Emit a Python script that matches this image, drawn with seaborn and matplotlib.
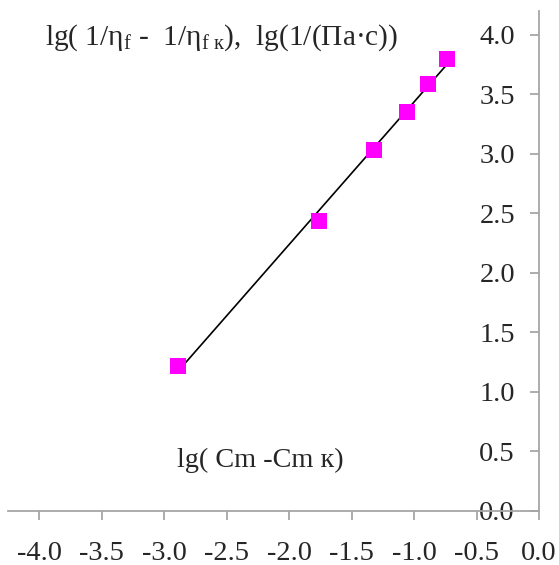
import numpy as np
import pandas as pd
import seaborn as sns
import matplotlib
matplotlib.use("Agg")
import matplotlib.pyplot as plt

# values
lg_cm = [-2.89, -1.76, -1.32, -1.06, -0.89, -0.74]
lg_eta = [1.22, 2.44, 3.03, 3.35, 3.59, 3.80]
x_ticks = [-4.0, -3.5, -3.0, -2.5, -2.0, -1.5, -1.0, -0.5, 0.0]
y_ticks = [0.0, 0.5, 1.0, 1.5, 2.0, 2.5, 3.0, 3.5, 4.0]

df = pd.DataFrame({"x": lg_cm, "y": lg_eta})

sns.set_style("white")
plt.rcParams["font.family"] = ["Liberation Serif", "DejaVu Serif"]
plt.rcParams["mathtext.fontset"] = "custom"
plt.rcParams["mathtext.rm"] = "Liberation Serif"
plt.rcParams["mathtext.it"] = "Liberation Serif:italic"

fig = plt.figure(figsize=(5.59, 5.65), dpi=100)
ax = fig.add_axes([8 / 559, 54 / 565, 531 / 559, 500 / 565])

# linear trend line over the data range
k, b = np.polyfit(df["x"], df["y"], 1)
xs = np.array([df["x"].min(), df["x"].max()])
ax.plot(xs, k * xs + b, color="black", lw=1.2, zorder=2)

sns.scatterplot(data=df, x="x", y="y", ax=ax, marker="s", s=118,
                color="#ff00ff", linewidth=0, zorder=3)

ax.set_xlim(-4.25, 0)
ax.set_ylim(0, 4.2)
ax.set_xticks(x_ticks)
ax.set_yticks(y_ticks)
ax.set_xticklabels([f"{v:.1f}" for v in x_ticks])
ax.set_yticklabels([f"{v:.1f}" for v in y_ticks])
ax.set_xlabel("")
ax.set_ylabel("")

grey = "#a6a6a6"
ax.spines["left"].set_position(("data", 0))
ax.spines["right"].set_visible(False)
ax.spines["top"].set_visible(False)
for side in ["left", "bottom"]:
    ax.spines[side].set_color(grey)
    ax.spines[side].set_linewidth(1.3)
ax.tick_params(axis="x", direction="out", length=6.3, width=1.3, color=grey,
               pad=15, labelsize=20.5, bottom=True)
ax.tick_params(axis="y", direction="out", length=6.3, width=1.3, color=grey,
               pad=11, labelsize=20.5, left=True)
ax.patch.set_alpha(0)

fig.text(45 / 559, 1 - 45 / 565,
         r"lg( 1/η$_\mathrm{f}$ -  1/η$_{\mathrm{f\ к}}$),  lg(1/(Па·с))",
         fontsize=21.2, va="baseline", ha="left")
fig.text(177 / 559, 1 - 467 / 565, "lg( Cm -Cm к)",
         fontsize=20.3, va="baseline", ha="left")

fig.savefig("out.png", dpi=100)
